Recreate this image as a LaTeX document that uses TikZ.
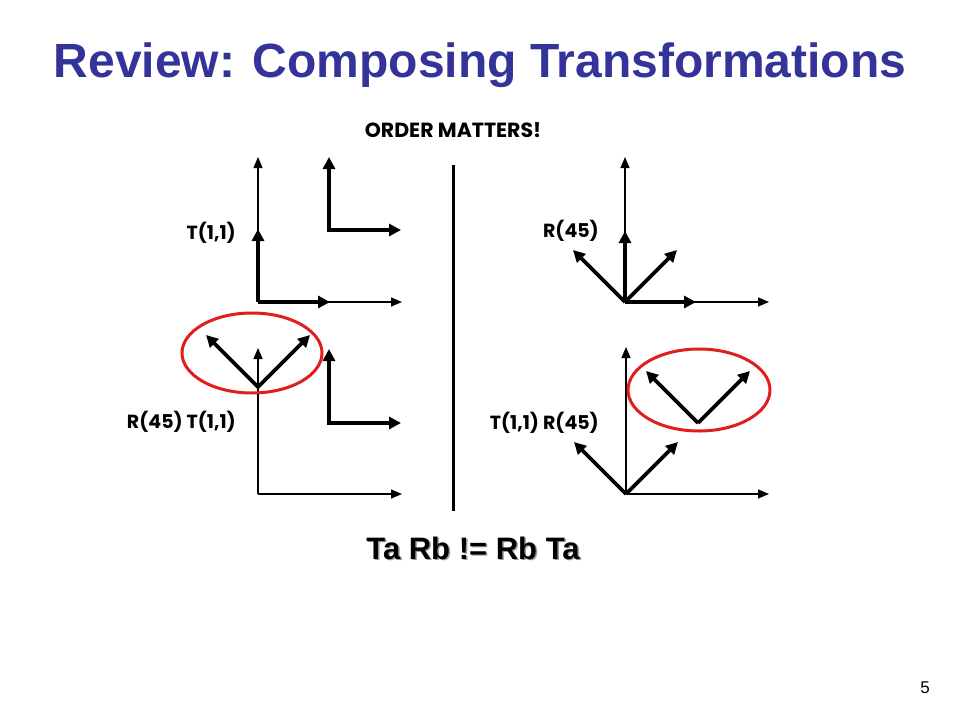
\documentclass[tikz,border=0pt]{standalone}
\usepackage{fontspec}
\setmainfont{Liberation Sans}
\newfontfamily\lblfont{Poppins}
\usetikzlibrary{arrows.meta,shapes.geometric}
\definecolor{titleblue}{RGB}{51,51,153}
\definecolor{ringred}{RGB}{225,30,30}
\tikzset{
  thinax/.style={line width=1.3pt,-{Triangle[length=11pt,width=9pt]}},
  thickax/.style={line width=3.6pt,-{Triangle[length=12pt,width=12pt]}},
  ring/.style={draw=ringred,line width=3pt},
  lbl/.style={font=\lblfont\bfseries\fontsize{19}{22}\selectfont,anchor=east,inner sep=0pt}
}
\begin{document}
\begin{tikzpicture}[x=1pt,y=-1pt]
\useasboundingbox[fill=white] (0,0) rectangle (960,720);
% title
\node[font=\bfseries\fontsize{48}{56}\selectfont,text=titleblue] (title) at (480,65) {Review: Composing Transformations};
\node[font=\lblfont\bfseries\fontsize{20.5}{24}\selectfont] (order) at (453,130) {ORDER MATTERS!};
% separator
\coordinate (s1) at (453,165); \coordinate (s2) at (453,511);
\draw[line width=3pt] (s1) -- (s2);

% top-left panel
\coordinate (O1) at (258,302);
\coordinate (O1y) at (258,157); \coordinate (O1x) at (402,302);
\coordinate (O1ty) at (258,229); \coordinate (O1tx) at (330,302);
\draw[thinax] (O1) -- (O1y);
\draw[thinax] (O1) -- (O1x);
\draw[thickax] (O1) -- (O1ty);
\draw[thickax] (O1) -- (O1tx);
\coordinate (O2) at (329,230);
\coordinate (O2y) at (329,157); \coordinate (O2x) at (401,230);
\draw[thickax] ([yshift=1.8pt]O2) -- (O2y);
\draw[thickax] ([xshift=-1.8pt]O2) -- (O2x);
\node[lbl] (l1) at (236,233) {T(1,1)};

% bottom-left panel
\coordinate (O3) at (258,494);
\coordinate (O3y) at (258,348); \coordinate (O3x) at (402,494);
\draw[thinax] (O3) -- (O3y);
\draw[thinax] (O3) -- (O3x);
\coordinate (R1) at (258,387);
\coordinate (R1a) at (206,335); \coordinate (R1b) at (310,335);
\draw[thickax] (R1) -- (R1a);
\draw[thickax] (R1) -- (R1b);
\coordinate (O4) at (329,423);
\coordinate (O4y) at (329,349); \coordinate (O4x) at (401,423);
\draw[thickax] ([yshift=1.8pt]O4) -- (O4y);
\draw[thickax] ([xshift=-1.8pt]O4) -- (O4x);
\node[lbl] (l2) at (236,422) {R(45) T(1,1)};
\node[ring,ellipse,minimum width=140pt,minimum height=80pt,inner sep=0pt] (e1) at (252,353) {};

% top-right panel
\coordinate (O5) at (625,302);
\coordinate (O5y) at (625,157); \coordinate (O5x) at (769,302);
\draw[thinax] (O5) -- (O5y);
\draw[thinax] (O5) -- (O5x);
\coordinate (O5ty) at (625,231); \coordinate (O5tx) at (696,302);
\draw[thickax] (O5) -- (O5ty);
\draw[thickax] (O5) -- (O5tx);
\coordinate (O5a) at (573,250); \coordinate (O5b) at (677,250);
\draw[thickax] (O5) -- (O5a);
\draw[thickax] (O5) -- (O5b);
\node[lbl] (l3) at (599,231) {R(45)};

% bottom-right panel
\coordinate (O6) at (626,494);
\coordinate (O6y) at (626,347); \coordinate (O6x) at (769,494);
\draw[thinax] (O6) -- (O6y);
\draw[thinax] (O6) -- (O6x);
\coordinate (O6a) at (574,442); \coordinate (O6b) at (678,442);
\draw[thickax] (O6) -- (O6a);
\draw[thickax] (O6) -- (O6b);
\coordinate (O7) at (698,423);
\coordinate (O7a) at (646,371); \coordinate (O7b) at (750,371);
\draw[thickax] (O7) -- (O7a);
\draw[thickax] (O7) -- (O7b);
\node[lbl] (l4) at (599,423) {T(1,1) R(45)};
\node[ring,ellipse,minimum width=142pt,minimum height=82pt,inner sep=0pt] (e2) at (699,390) {};

% bottom caption with shadow
\node[font=\bfseries\fontsize{31}{36}\selectfont,text=black!40] (capsh) at (474.5,549.5) {Ta Rb != Rb Ta};
\node[font=\bfseries\fontsize{31}{36}\selectfont] (cap) at (473,548) {Ta Rb != Rb Ta};

% page number
\node[font=\fontsize{17}{20}\selectfont] (pg) at (925,688) {5};
\end{tikzpicture}
\end{document}
